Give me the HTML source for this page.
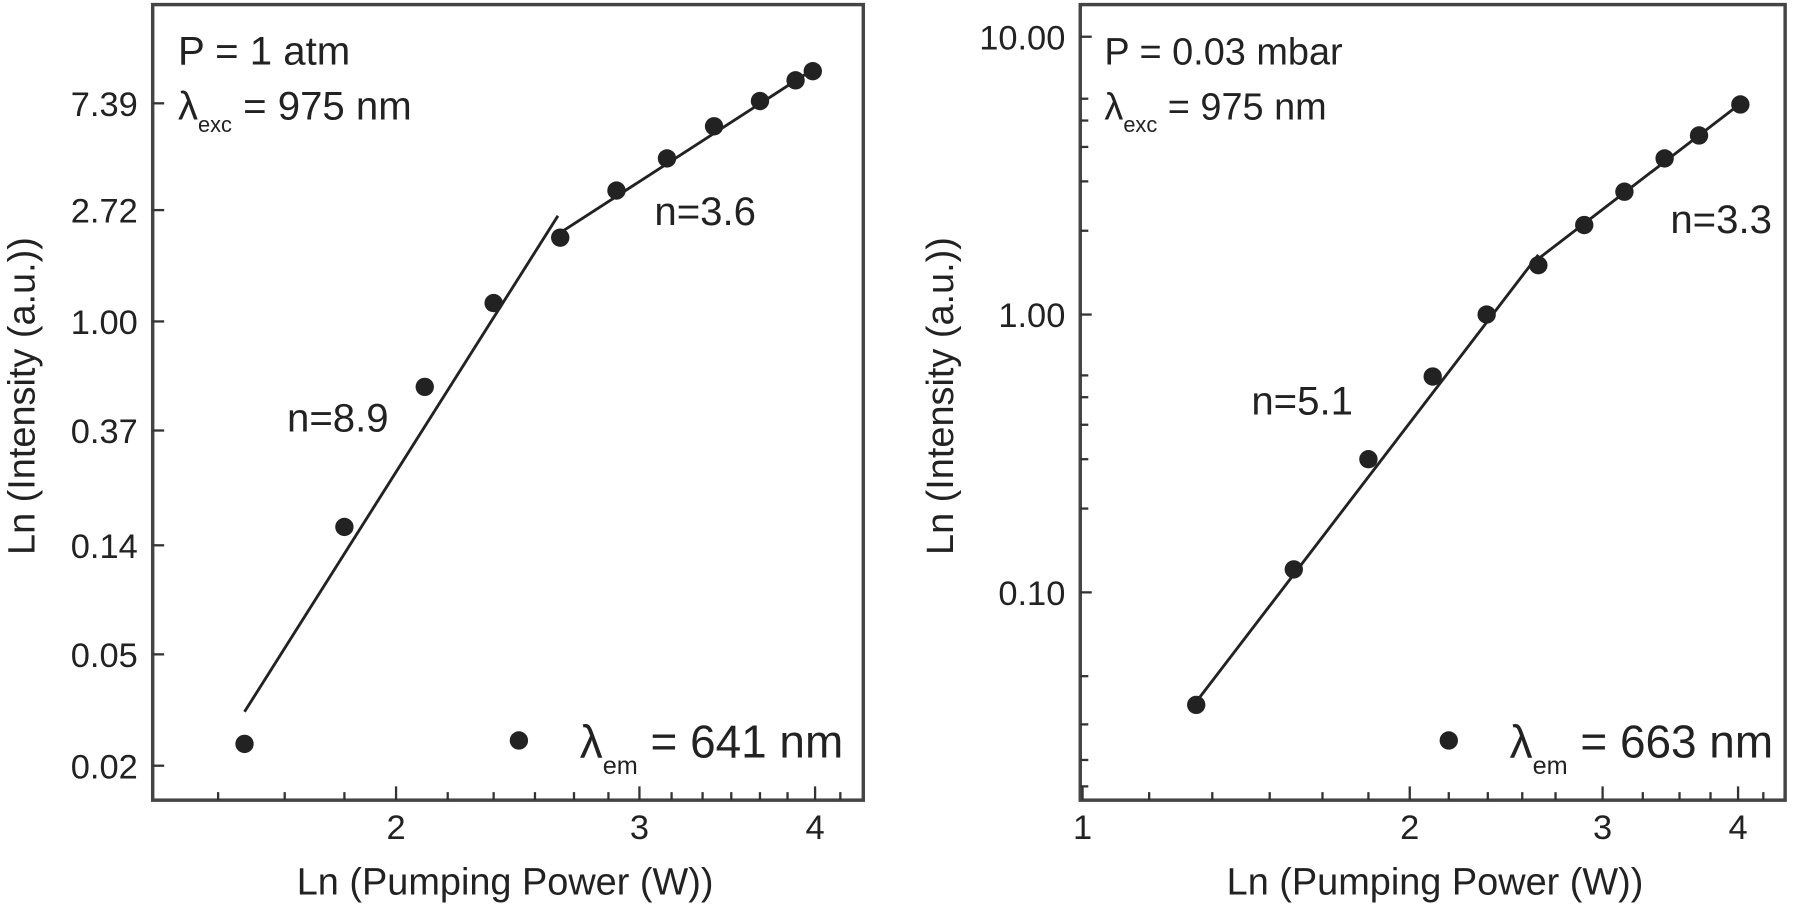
<!DOCTYPE html>
<html><head><meta charset="utf-8"><style>
html,body{margin:0;padding:0;background:#fff;}
svg{display:block;font-family:"Liberation Sans",Arial,sans-serif;}
</style></head><body>
<svg width="1800" height="905" viewBox="0 0 1800 905" xmlns="http://www.w3.org/2000/svg">
<g transform="scale(1.148)" fill="#222" stroke="none">
<!-- LEFT PANEL -->
<rect x="133" y="4" width="619" height="693" fill="none" stroke="#444" stroke-width="3"/>
<g stroke="#333" stroke-width="2">
<line x1="133" y1="90" x2="143" y2="90"/><line x1="133" y1="183" x2="143" y2="183"/><line x1="133" y1="280" x2="143" y2="280"/>
<line x1="133" y1="375" x2="143" y2="375"/><line x1="133" y1="475" x2="143" y2="475"/><line x1="133" y1="570" x2="143" y2="570"/><line x1="133" y1="667" x2="143" y2="667"/>
<line x1="345" y1="697" x2="345" y2="685"/><line x1="557" y1="697" x2="557" y2="685"/><line x1="710" y1="697" x2="710" y2="685"/>
<line x1="190" y1="697" x2="190" y2="690"/><line x1="248" y1="697" x2="248" y2="690"/><line x1="300" y1="697" x2="300" y2="690"/><line x1="390" y1="697" x2="390" y2="690"/><line x1="430" y1="697" x2="430" y2="690"/><line x1="466" y1="697" x2="466" y2="690"/><line x1="500" y1="697" x2="500" y2="690"/><line x1="530" y1="697" x2="530" y2="690"/><line x1="585" y1="697" x2="585" y2="690"/><line x1="612" y1="697" x2="612" y2="690"/><line x1="637" y1="697" x2="637" y2="690"/><line x1="662" y1="697" x2="662" y2="690"/><line x1="686" y1="697" x2="686" y2="690"/><line x1="732" y1="697" x2="732" y2="690"/>
</g>
<g font-size="30" text-anchor="end">
<text x="120" y="101">7.39</text><text x="120" y="194">2.72</text><text x="120" y="291">1.00</text><text x="120" y="386">0.37</text><text x="120" y="486">0.14</text><text x="120" y="581">0.05</text><text x="120" y="678">0.02</text>
</g>
<g font-size="30" text-anchor="middle">
<text x="345" y="731">2</text><text x="557" y="731">3</text><text x="710" y="731">4</text>
</g>
<text x="440" y="779" font-size="33" text-anchor="middle">Ln (Pumping Power (W))</text>
<text transform="translate(30,345) rotate(-90)" font-size="33" text-anchor="middle">Ln (Intensity (a.u.))</text>
<text x="155" y="56" font-size="35">P = 1 atm</text>
<text x="155" y="104" font-size="35">λ<tspan font-size="19" dy="11">exc</tspan><tspan dy="-11"> = 975 nm</tspan></text>
<text x="250" y="376" font-size="35">n=8.9</text>
<text x="570" y="196" font-size="35">n=3.6</text>
<line x1="213" y1="620" x2="486" y2="188" stroke="#222" stroke-width="2.5"/>
<line x1="486" y1="204" x2="712" y2="58" stroke="#222" stroke-width="2.5"/>
<circle cx="213" cy="648" r="8"/><circle cx="300" cy="459" r="8"/><circle cx="370" cy="337" r="8"/><circle cx="430" cy="264" r="8"/><circle cx="488" cy="207" r="8"/><circle cx="537" cy="166" r="8"/><circle cx="581" cy="138" r="8"/><circle cx="622" cy="110" r="8"/><circle cx="662" cy="88" r="8"/><circle cx="693" cy="70" r="8"/><circle cx="708" cy="62" r="8"/>
<circle cx="452" cy="645" r="8"/>
<text x="505" y="660" font-size="40">λ<tspan font-size="22" dy="14">em</tspan><tspan dy="-14"> = 641 nm</tspan></text>

<!-- RIGHT PANEL -->
<rect x="941" y="4" width="614" height="693" fill="none" stroke="#444" stroke-width="3"/>
<g stroke="#333" stroke-width="2">
<line x1="941" y1="32" x2="951" y2="32"/><line x1="941" y1="274" x2="951" y2="274"/><line x1="941" y1="516" x2="951" y2="516"/>
<line x1="943" y1="697" x2="943" y2="685"/><line x1="1228" y1="697" x2="1228" y2="685"/><line x1="1396" y1="697" x2="1396" y2="685"/><line x1="1514" y1="697" x2="1514" y2="685"/>
<line x1="1001" y1="697" x2="1001" y2="690"/><line x1="1056" y1="697" x2="1056" y2="690"/><line x1="1106" y1="697" x2="1106" y2="690"/><line x1="1152" y1="697" x2="1152" y2="690"/><line x1="1192" y1="697" x2="1192" y2="690"/><line x1="1262" y1="697" x2="1262" y2="690"/><line x1="1296" y1="697" x2="1296" y2="690"/><line x1="1326" y1="697" x2="1326" y2="690"/><line x1="1355" y1="697" x2="1355" y2="690"/><line x1="1431" y1="697" x2="1431" y2="690"/><line x1="1463" y1="697" x2="1463" y2="690"/><line x1="1490" y1="697" x2="1490" y2="690"/><line x1="1536" y1="697" x2="1536" y2="690"/>
<line x1="941" y1="443" x2="948" y2="443"/><line x1="941" y1="400" x2="948" y2="400"/><line x1="941" y1="370" x2="948" y2="370"/><line x1="941" y1="346" x2="948" y2="346"/><line x1="941" y1="327" x2="948" y2="327"/><line x1="941" y1="201" x2="948" y2="201"/><line x1="941" y1="158" x2="948" y2="158"/><line x1="941" y1="128" x2="948" y2="128"/><line x1="941" y1="105" x2="948" y2="105"/><line x1="941" y1="86" x2="948" y2="86"/><line x1="941" y1="589" x2="948" y2="589"/><line x1="941" y1="631" x2="948" y2="631"/><line x1="941" y1="662" x2="948" y2="662"/><line x1="941" y1="685" x2="948" y2="685"/>
</g>
<g font-size="30" text-anchor="end">
<text x="928" y="43">10.00</text><text x="928" y="285">1.00</text><text x="928" y="527">0.10</text>
</g>
<g font-size="30" text-anchor="middle">
<text x="943" y="731">1</text><text x="1228" y="731">2</text><text x="1396" y="731">3</text><text x="1514" y="731">4</text>
</g>
<text x="1250" y="779" font-size="33" text-anchor="middle">Ln (Pumping Power (W))</text>
<text transform="translate(830,345) rotate(-90)" font-size="33" text-anchor="middle">Ln (Intensity (a.u.))</text>
<text x="962" y="56" font-size="33">P = 0.03 mbar</text>
<text x="962" y="104" font-size="33">λ<tspan font-size="19" dy="11">exc</tspan><tspan dy="-11"> = 975 nm</tspan></text>
<text x="1090" y="361" font-size="35">n=5.1</text>
<text x="1455" y="203" font-size="35">n=3.3</text>
<line x1="1040" y1="614" x2="1340" y2="222" stroke="#222" stroke-width="2.5"/>
<line x1="1334" y1="230" x2="1519" y2="88" stroke="#222" stroke-width="2.5"/>
<circle cx="1042" cy="614" r="8"/><circle cx="1127" cy="496" r="8"/><circle cx="1192" cy="400" r="8"/><circle cx="1248" cy="328" r="8"/><circle cx="1295" cy="274" r="8"/><circle cx="1340" cy="231" r="8"/><circle cx="1380" cy="196" r="8"/><circle cx="1415" cy="167" r="8"/><circle cx="1450" cy="138" r="8"/><circle cx="1480" cy="118" r="8"/><circle cx="1516" cy="91" r="8"/>
<circle cx="1262" cy="645" r="8"/>
<text x="1315" y="660" font-size="40">λ<tspan font-size="22" dy="14">em</tspan><tspan dy="-14"> = 663 nm</tspan></text>
</g>
</svg>
</body></html>
